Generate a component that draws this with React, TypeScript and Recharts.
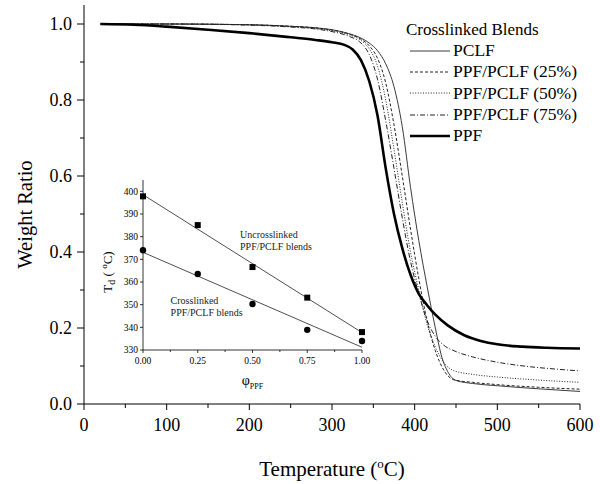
import React from "react";
import { LineChart, Line, XAxis, YAxis, Legend, ComposedChart, Scatter, ReferenceDot } from "recharts";

const FONT = "'Liberation Serif', 'Times New Roman', serif";

// TGA curves, temperature (°C) vs weight ratio
const pclfT = [20, 100, 200, 250, 280, 300, 320, 335, 345, 355, 365, 375, 385, 395, 405, 415, 425, 432, 440, 450, 470, 500, 550, 600];
const pclfW = [1.0, 1.0, 0.998, 0.994, 0.99, 0.985, 0.975, 0.963, 0.95, 0.93, 0.895, 0.835, 0.73, 0.57, 0.43, 0.31, 0.2, 0.13, 0.085, 0.062, 0.054, 0.048, 0.04, 0.033];

const blend25T = [20, 100, 200, 250, 280, 300, 320, 335, 345, 355, 365, 375, 385, 395, 405, 415, 425, 435, 447, 470, 500, 550, 600];
const blend25W = [1.0, 1.0, 0.998, 0.994, 0.99, 0.984, 0.974, 0.96, 0.943, 0.91, 0.845, 0.735, 0.6, 0.46, 0.33, 0.22, 0.14, 0.09, 0.064, 0.057, 0.051, 0.044, 0.039];

const blend50T = [20, 100, 200, 250, 280, 300, 320, 335, 345, 355, 365, 375, 385, 395, 405, 415, 425, 435, 447, 470, 500, 550, 600];
const blend50W = [1.0, 1.0, 0.998, 0.993, 0.988, 0.982, 0.972, 0.957, 0.935, 0.89, 0.8, 0.67, 0.53, 0.4, 0.3, 0.21, 0.15, 0.11, 0.088, 0.078, 0.071, 0.063, 0.057];

const blend75T = [20, 100, 200, 250, 280, 300, 320, 335, 345, 355, 365, 375, 385, 395, 405, 415, 425, 435, 450, 470, 500, 540, 570, 600];
const blend75W = [1.0, 1.0, 0.997, 0.992, 0.987, 0.98, 0.968, 0.95, 0.92, 0.855, 0.745, 0.62, 0.49, 0.375, 0.29, 0.22, 0.178, 0.155, 0.138, 0.124, 0.11, 0.098, 0.092, 0.087];

const ppfT = [20, 60, 100, 150, 200, 250, 280, 300, 315, 325, 335, 345, 355, 365, 375, 385, 395, 405, 415, 425, 440, 460, 480, 500, 530, 560, 600];
const ppfW = [1.0, 0.998, 0.993, 0.985, 0.976, 0.965, 0.958, 0.952, 0.945, 0.933, 0.905, 0.85, 0.76, 0.62, 0.5, 0.41, 0.34, 0.29, 0.26, 0.235, 0.207, 0.181, 0.166, 0.157, 0.151, 0.148, 0.146];

const tempTicks = [0, 50, 100, 150, 200, 250, 300, 350, 400, 450, 500, 550, 600];
const topTicks = [50, 100, 150, 200, 250, 300, 350, 400, 450, 500, 550];
const ratioTicks = [0, 0.1, 0.2, 0.3, 0.4, 0.5, 0.6, 0.7, 0.8, 0.9, 1.0];

// inset: decomposition temperature vs PPF fraction
const phiValues = [0, 0.25, 0.5, 0.75, 1.0];
const tdUncrosslinked = [397.8, 385.1, 366.6, 353.1, 337.9];
const tdCrosslinked = [374, 363.5, 350.3, 338.9, 334];
const fitPhi = [0, 1];
const fitUncrosslinked = [398.5, 337.7];
const fitCrosslinked = [373.1, 331.2];

const phiTicks = [0, 0.125, 0.25, 0.375, 0.5, 0.625, 0.75, 0.875, 1.0];
const phiTopTicks = [0.125, 0.25, 0.375, 0.5, 0.625, 0.75, 0.875];
const tdTicks = [330, 340, 350, 360, 370, 380, 390, 400];
const tdRightTicks = [335, 340, 345, 350, 355, 360, 365, 370, 375, 380, 385, 390, 395, 400];

const toPoints = (ts: number[], ws: number[]) => ts.map((t, i) => ({ t, w: ws[i] }));

const series = [
  { name: "PCLF", data: toPoints(pclfT, pclfW), color: "#3a3a3a", width: 1, dash: undefined as string | undefined },
  { name: "PPF/PCLF (25%)", data: toPoints(blend25T, blend25W), color: "#222", width: 1, dash: "3 2" },
  { name: "PPF/PCLF (50%)", data: toPoints(blend50T, blend50W), color: "#222", width: 1, dash: "1 1.6" },
  { name: "PPF/PCLF (75%)", data: toPoints(blend75T, blend75W), color: "#222", width: 1, dash: "5 2 1 2" },
  { name: "PPF", data: toPoints(ppfT, ppfW), color: "#000", width: 2.6, dash: undefined },
];

const uncrossPts = phiValues.map((phi, i) => ({ phi, td: tdUncrosslinked[i] }));
const crossPts = phiValues.map((phi, i) => ({ phi, td: tdCrosslinked[i] }));
const uncrossFit = fitPhi.map((phi, i) => ({ phi, td: fitUncrosslinked[i] }));
const crossFit = fitPhi.map((phi, i) => ({ phi, td: fitCrosslinked[i] }));

const bottomTick = (props: any) => {
  const { x, y, payload } = props;
  const major = payload.value % 100 === 0;
  return (
    <g>
      <line x1={x} x2={x} y1={y} y2={y + (major ? 6 : 4)} stroke="#000" />
      {major && (
        <text x={x} y={y + 27} textAnchor="middle" fontSize={18} fontFamily={FONT} fill="#000">
          {payload.value}
        </text>
      )}
    </g>
  );
};

const topTick = (props: any) => {
  const { x, y } = props;
  return <line x1={x} x2={x} y1={y} y2={y + 7} stroke="#000" />;
};

const leftTick = (props: any) => {
  const { x, y, payload } = props;
  const major = Math.round(payload.value * 10) % 2 === 0;
  return (
    <g>
      <line x1={x} x2={x - (major ? 7 : 4)} y1={y} y2={y} stroke="#000" />
      {major && (
        <text x={x - 12} y={y} dy="0.35em" textAnchor="end" fontSize={18} fontFamily={FONT} fill="#000">
          {payload.value.toFixed(1)}
        </text>
      )}
    </g>
  );
};

const insetBottomTick = (props: any) => {
  const { x, y, payload } = props;
  const major = Math.round(payload.value * 1000) % 250 === 0;
  return (
    <g>
      <line x1={x} x2={x} y1={y} y2={y + (major ? 3 : 2)} stroke="#000" strokeWidth={0.8} />
      {major && (
        <text x={x} y={y + 14} textAnchor="middle" fontSize={9.5} fontFamily={FONT} fill="#000">
          {payload.value.toFixed(2)}
        </text>
      )}
    </g>
  );
};

const insetTopTick = (props: any) => {
  const { x, y, payload } = props;
  const major = Math.round(payload.value * 1000) % 250 === 0;
  return <line x1={x} x2={x} y1={y} y2={y + (major ? 4 : 2)} stroke="#000" strokeWidth={0.8} />;
};

const insetLeftTick = (props: any) => {
  const { x, y, payload } = props;
  return (
    <g>
      <line x1={x} x2={x - 3} y1={y} y2={y} stroke="#000" strokeWidth={0.8} />
      <text x={x - 5} y={y} dy="0.35em" textAnchor="end" fontSize={9.5} fontFamily={FONT} fill="#000">
        {payload.value}
      </text>
    </g>
  );
};

const insetRightTick = (props: any) => {
  const { x, y, payload } = props;
  const major = payload.value % 10 === 0;
  return <line x1={x} x2={x - (major ? 4 : 2)} y1={y} y2={y} stroke="#000" strokeWidth={0.8} />;
};

const tempLabel = (props: any) => {
  const { x, y, width } = props.viewBox;
  return (
    <text x={x + width / 2} y={y + 72} textAnchor="middle" fontSize={21} fontFamily={FONT} fill="#000">
      Temperature (<tspan fontSize={13} dy={-8}>o</tspan>
      <tspan dy={8}>C)</tspan>
    </text>
  );
};

const ratioLabel = (props: any) => {
  const { y, height } = props.viewBox;
  const cx = 25;
  const cy = y + height / 2 + 10;
  return (
    <text x={cx} y={cy} transform={`rotate(-90 ${cx} ${cy})`} textAnchor="middle" dy="0.35em" fontSize={20.5} fontFamily={FONT} fill="#000">
      Weight Ratio
    </text>
  );
};

const phiLabel = (props: any) => {
  const { x, y, width } = props.viewBox;
  return (
    <text x={x + width / 2} y={y + 35} textAnchor="middle" fontSize={14} fontFamily={FONT} fill="#000">
      φ<tspan fontSize={8} dy={4}>PPF</tspan>
    </text>
  );
};

const tdLabel = (props: any) => {
  const { x, y, height } = props.viewBox;
  const cx = x + 112;
  const cy = y + height / 2 + 7;
  return (
    <text x={cx} y={cy} transform={`rotate(-90 ${cx} ${cy})`} textAnchor="middle" fontSize={13} fontFamily={FONT} fill="#000">
      T<tspan fontSize={10} dy={3}>d</tspan>
      <tspan dy={-3}> ( </tspan>
      <tspan fontSize={9} dy={-5}>o</tspan>
      <tspan dy={5}>C)</tspan>
    </text>
  );
};

const noteLabel = (lines: string[]) => (props: any) => {
  const { x, y } = props.viewBox;
  return (
    <text x={x} y={y} fontSize={10} fontFamily={FONT} fill="#222">
      {lines.map((l, i) => (
        <tspan key={l} x={x} dy={i === 0 ? 0 : 12}>
          {l}
        </tspan>
      ))}
    </text>
  );
};

const squareShape = (p: any) => <rect x={p.cx - 3} y={p.cy - 3} width={6} height={6} fill="#000" />;
const circleShape = (p: any) => <circle cx={p.cx} cy={p.cy} r={3.2} fill="#000" />;

const legendContent = (props: any) => {
  const payload = props.payload || [];
  return (
    <div style={{ fontFamily: FONT, color: "#000" }}>
      <div style={{ fontSize: 17, lineHeight: "21px", whiteSpace: "nowrap" }}>Crosslinked Blends</div>
      {series.map((s) => {
        if (!payload.find((p: any) => p.value === s.name)) return null;
        return (
          <div key={s.name} style={{ display: "flex", alignItems: "center", height: 21.3 }}>
            <svg width={44} height={10}>
              <line x1={4} x2={44} y1={5} y2={5} stroke={s.color} strokeWidth={s.width} strokeDasharray={s.dash} />
            </svg>
            <span style={{ marginLeft: 3, fontSize: 17.5, whiteSpace: "nowrap" }}>{s.name}</span>
          </div>
        );
      })}
    </div>
  );
};

export default function App() {
  return (
    <div style={{ position: "absolute", left: 0, top: 0, width: 600, height: 484, background: "#fff" }}>
      <div style={{ position: "absolute", left: 0, top: 0 }}>
        <LineChart width={600} height={484} margin={{ top: 5, right: 20, bottom: 0, left: 0 }}>
          <XAxis
            dataKey="t"
            type="number"
            domain={[0, 600]}
            ticks={tempTicks}
            interval={0}
            height={80}
            tickSize={0}
            tickMargin={0}
            tickLine={false}
            tick={bottomTick}
            axisLine={{ stroke: "#000" }}
            allowDataOverflow
            label={tempLabel}
          />
          <XAxis
            xAxisId="top"
            orientation="top"
            type="number"
            domain={[0, 600]}
            ticks={topTicks}
            interval={0}
            height={0}
            tickSize={0}
            tickMargin={0}
            tickLine={false}
            tick={topTick}
            axisLine={{ stroke: "#000" }}
            allowDataOverflow
          />
          <YAxis
            type="number"
            domain={[0, 1.05]}
            ticks={ratioTicks}
            interval={0}
            width={84}
            tickSize={0}
            tickMargin={0}
            tickLine={false}
            tick={leftTick}
            axisLine={{ stroke: "#000" }}
            allowDataOverflow
            label={ratioLabel}
          />
          <YAxis
            yAxisId="right"
            orientation="right"
            type="number"
            domain={[0, 1.05]}
            width={0}
            tick={false}
            tickLine={false}
            axisLine={{ stroke: "#000" }}
            allowDataOverflow
          />
          {series.map((s) => (
            <Line
              key={s.name}
              data={s.data}
              dataKey="w"
              name={s.name}
              type="monotone"
              stroke={s.color}
              strokeWidth={s.width}
              strokeDasharray={s.dash}
              dot={false}
              isAnimationActive={false}
            />
          ))}
          <Legend
            layout="vertical"
            align="center"
            verticalAlign="middle"
            content={legendContent}
            wrapperStyle={{ left: 406, top: 19, width: 190, height: "auto" }}
          />
        </LineChart>
      </div>
      <div style={{ position: "absolute", left: 0, top: 0, pointerEvents: "none" }}>
        <ComposedChart width={600} height={484} margin={{ top: 180, right: 238, bottom: 0, left: 0 }}>
          <XAxis
            dataKey="phi"
            type="number"
            domain={[0, 1]}
            ticks={phiTicks}
            interval={0}
            height={134}
            tickSize={0}
            tickMargin={0}
            tickLine={false}
            tick={insetBottomTick}
            axisLine={{ stroke: "#000", strokeWidth: 0.8 }}
            label={phiLabel}
          />
          <XAxis
            xAxisId="top"
            orientation="top"
            type="number"
            domain={[0, 1]}
            ticks={phiTopTicks}
            interval={0}
            height={0}
            tickSize={0}
            tickMargin={0}
            tickLine={false}
            tick={insetTopTick}
            axisLine={{ stroke: "#000", strokeWidth: 0.8 }}
            allowDataOverflow
          />
          <YAxis
            dataKey="td"
            type="number"
            domain={[330, 405]}
            ticks={tdTicks}
            interval={0}
            width={143}
            tickSize={0}
            tickMargin={0}
            tickLine={false}
            tick={insetLeftTick}
            axisLine={{ stroke: "#000", strokeWidth: 0.8 }}
            label={tdLabel}
          />
          <YAxis
            yAxisId="right"
            orientation="right"
            type="number"
            domain={[330, 405]}
            ticks={tdRightTicks}
            interval={0}
            width={0}
            tickSize={0}
            tickMargin={0}
            tickLine={false}
            tick={insetRightTick}
            axisLine={{ stroke: "#000", strokeWidth: 0.8 }}
            allowDataOverflow
          />
          <Line data={uncrossFit} dataKey="td" type="linear" stroke="#222" strokeWidth={0.8} dot={false} isAnimationActive={false} />
          <Line data={crossFit} dataKey="td" type="linear" stroke="#222" strokeWidth={0.8} dot={false} isAnimationActive={false} />
          <Scatter data={uncrossPts} dataKey="td" shape={squareShape} isAnimationActive={false} />
          <Scatter data={crossPts} dataKey="td" shape={circleShape} isAnimationActive={false} />
          <ReferenceDot x={0.443} y={379.2} r={0} fill="none" stroke="none" label={noteLabel(["Uncrosslinked", "PPF/PCLF blends"])} />
          <ReferenceDot x={0.126} y={350.3} r={0} fill="none" stroke="none" label={noteLabel(["Crosslinked", "PPF/PCLF blends"])} />
        </ComposedChart>
      </div>
    </div>
  );
}
